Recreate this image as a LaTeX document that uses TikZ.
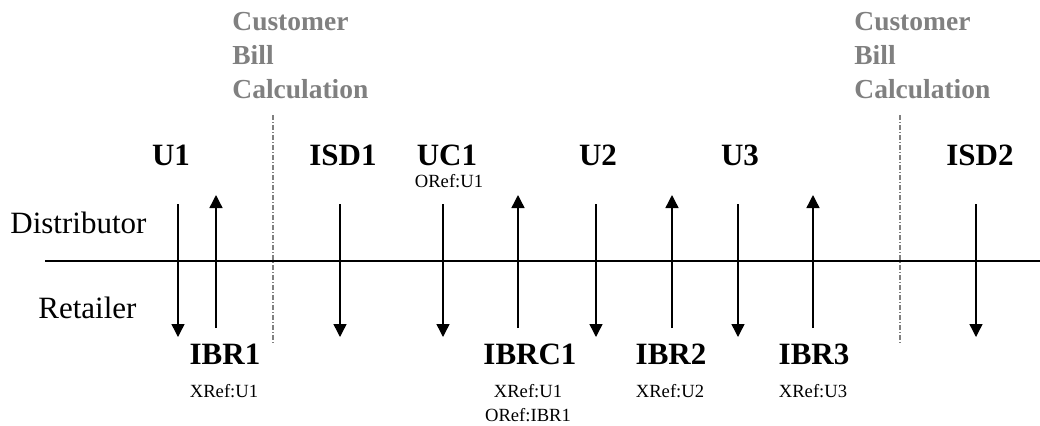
\documentclass[tikz,border=0pt]{standalone}
\usepackage{fontspec}
\setmainfont{Liberation Serif}
\usetikzlibrary{arrows.meta}

\definecolor{billgray}{RGB}{128,128,128}

\begin{document}
\begin{tikzpicture}[
  x=0.5pt, y=0.5pt,
  every node/.style={inner sep=0pt, anchor=base},
  msg/.style={font=\fontsize{15.5}{18}\selectfont\bfseries},
  party/.style={font=\fontsize{15.5}{18}\selectfont, anchor=base west},
  ref/.style={font=\fontsize{9.3}{12}\selectfont, align=center},
  calc/.style={font=\fontsize{13.75}{17}\selectfont\bfseries, text=billgray, align=left, anchor=north west},
  flow/.style={-{Triangle[width=6.5pt,length=6.5pt]}, line width=0.7pt},
  sep/.style={billgray, line width=0.7pt, dash pattern=on 2.5pt off 1pt on 0.5pt off 1pt},
]
\useasboundingbox (0,0) rectangle (1040,-425);

% time line between the two parties
\coordinate (lstart) at (45,-261);
\coordinate (lend) at (1040,-261);
\draw[line width=0.7pt] (lstart) -- (lend);

\node[party] (dist) at (10,-233) {Distributor};
\node[party] (ret) at (38,-318) {Retailer};

% distributor to retailer
\foreach \x [count=\i] in {178,340,443,596,738,976}{
  \coordinate (dtop\i) at (\x,-204);
  \coordinate (dbot\i) at (\x,-337);
  \draw[flow] (dtop\i) -- (dbot\i);
}
% retailer to distributor
\foreach \x [count=\i] in {216,518,672,813}{
  \coordinate (ubot\i) at (\x,-328);
  \coordinate (utop\i) at (\x,-195);
  \draw[flow] (ubot\i) -- (utop\i);
}

% bill calculation cut-offs
\coordinate (sep1a) at (273,-115);
\coordinate (sep1b) at (273,-343);
\coordinate (sep2a) at (900,-115);
\coordinate (sep2b) at (900,-343);
\draw[sep] (sep1a) -- (sep1b);
\draw[sep] (sep2a) -- (sep2b);
\node[calc] (bill1) at (232,-12) {Customer\\Bill\\Calculation};
\node[calc] (bill2) at (854,-12) {Customer\\Bill\\Calculation};

\node[msg] (u1) at (171,-165) {U1};
\node[msg] (isd1) at (343,-165) {ISD1};
\node[msg] (uc1) at (447,-165) {UC1};
\node[ref] (uc1ref) at (449,-187) {ORef:U1};
\node[msg] (u2) at (598,-165) {U2};
\node[msg] (u3) at (740,-165) {U3};
\node[msg] (isd2) at (980,-165) {ISD2};

\node[msg] (ibr1) at (225,-364) {IBR1};
\node[ref] (ibr1ref) at (224,-397) {XRef:U1};
\node[msg] (ibrc1) at (530,-364) {IBRC1};
\node[ref] (ibrc1ref) at (528,-421) {XRef:U1\\ORef:IBR1};
\node[msg] (ibr2) at (671,-364) {IBR2};
\node[ref] (ibr2ref) at (670,-397) {XRef:U2};
\node[msg] (ibr3) at (814,-364) {IBR3};
\node[ref] (ibr3ref) at (813,-397) {XRef:U3};
\end{tikzpicture}
\end{document}
